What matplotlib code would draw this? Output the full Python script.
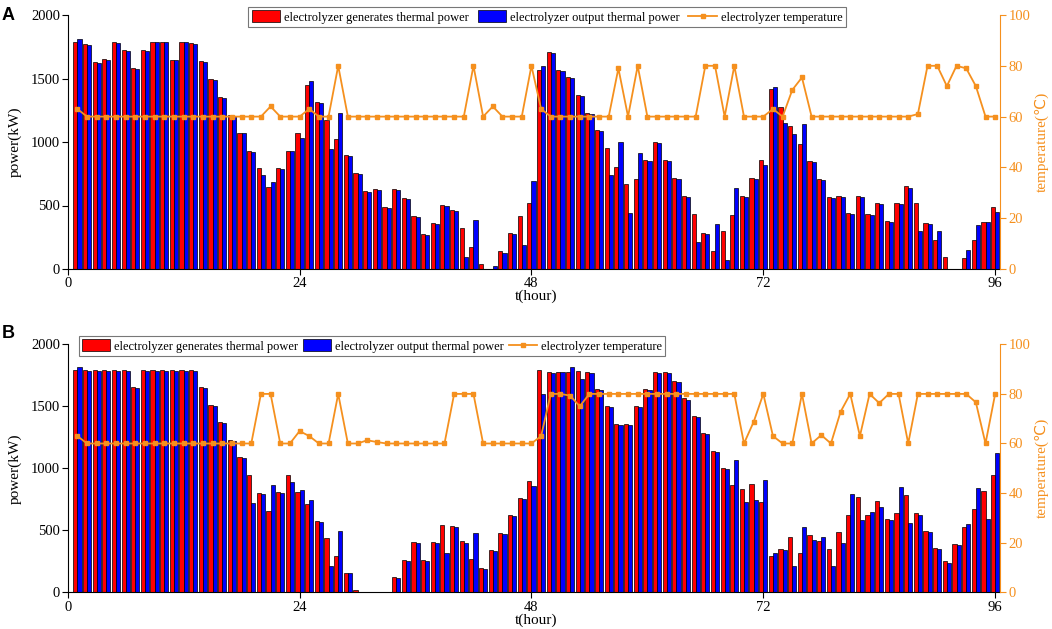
import numpy as np
import matplotlib
matplotlib.use("Agg")
import matplotlib.pyplot as plt
from matplotlib.patches import Patch
from matplotlib.lines import Line2D

hours = list(range(1, 97))

# Panel A
gen_A = [1790, 1770, 1629, 1655, 1790, 1723, 1581, 1723, 1790, 1790, 1649, 1790,
         1777, 1634, 1498, 1357, 1215, 1074, 933, 792, 648, 792, 933, 1074,
         1451, 1312, 1171, 1022, 894, 753, 612, 633, 491, 633, 557, 416,
         277, 363, 502, 465, 324, 173, 39, 0, 139, 280, 418, 518,
         1568, 1712, 1568, 1514, 1372, 1231, 1093, 951, 802, 672, 706, 857,
         998, 857, 716, 575, 437, 285, 144, 298, 429, 575, 719, 857,
         1414, 1273, 1124, 983, 852, 711, 570, 575, 439, 578, 437, 518,
         379, 518, 656, 518, 366, 227, 92, 0, 84, 230, 374, 489]
out_A = [1814, 1762, 1621, 1647, 1783, 1715, 1574, 1715, 1785, 1785, 1644, 1785,
         1772, 1629, 1490, 1349, 1208, 1067, 925, 740, 688, 787, 928, 1035,
         1480, 1304, 946, 1231, 886, 745, 604, 625, 484, 625, 549, 408,
         269, 355, 494, 457, 97, 382, 0, 26, 128, 272, 191, 693,
         1595, 1704, 1561, 1506, 1364, 1223, 1085, 740, 998, 444, 915, 850,
         991, 850, 708, 567, 209, 277, 353, 71, 635, 567, 706, 821,
         1435, 1153, 1061, 1142, 844, 703, 562, 570, 431, 570, 429, 510,
         371, 510, 640, 301, 355, 298, 0, 0, 152, 350, 369, 450]
temp_A = [63, 60, 60, 60, 60, 60, 60, 60, 60, 60, 60, 60,
          60, 60, 60, 60, 60, 60, 60, 60, 64, 60, 60, 60,
          63, 60, 60, 80, 60, 60, 60, 60, 60, 60, 60, 60,
          60, 60, 60, 60, 60, 80, 60, 64, 60, 60, 60, 80,
          63, 60, 60, 60, 60, 60, 60, 60, 79, 60, 80, 60,
          60, 60, 60, 60, 60, 80, 80, 60, 80, 60, 60, 60,
          63, 60, 70.5, 75.4, 60, 60, 60, 60, 60, 60, 60, 60,
          60, 60, 60, 61, 80, 80, 72, 80, 79, 72, 60, 60]

# Panel B
gen_B = [1790, 1790, 1790, 1790, 1790, 1790, 1653, 1790, 1790, 1790, 1790, 1790,
         1790, 1653, 1511, 1371, 1231, 1089, 949, 798, 659, 809, 949, 809,
         715, 578, 438, 293, 159, 19, 0, 0, 0, 121, 261, 403,
         261, 403, 543, 535, 411, 271, 199, 341, 481, 621, 761, 900,
         1790, 1779, 1779, 1779, 1782, 1779, 1640, 1500, 1360, 1360, 1503, 1642,
         1779, 1779, 1704, 1564, 1425, 1285, 1142, 1003, 863, 833, 876, 728,
         296, 352, 444, 315, 465, 414, 352, 489, 626, 771, 626, 734,
         594, 637, 788, 637, 495, 355, 250, 390, 530, 672, 820, 946]
out_B = [1817, 1785, 1785, 1785, 1785, 1785, 1645, 1785, 1785, 1785, 1785, 1785,
         1785, 1645, 1503, 1363, 1223, 1081, 723, 790, 866, 801, 890, 823,
         742, 570, 212, 497, 153, 0, 0, 0, 5, 113, 255, 395,
         255, 395, 314, 527, 400, 478, 191, 333, 473, 613, 753, 860,
         1597, 1771, 1779, 1814, 1720, 1771, 1632, 1492, 1352, 1352, 1492, 1632,
         1771, 1771, 1693, 1554, 1414, 1274, 1134, 995, 1070, 728, 742, 906,
         320, 344, 215, 524, 422, 444, 210, 401, 796, 581, 650, 685,
         583, 847, 562, 626, 487, 347, 239, 379, 554, 844, 591, 1124]
temp_B = [63, 60, 60, 60, 60, 60, 60, 60, 60, 60, 60, 60,
          60, 60, 60, 60, 60, 60, 60, 80, 80, 60, 60, 65,
          63, 60, 60, 80, 60, 60, 61.3, 60.6, 60, 60, 60, 60,
          60, 60, 60, 80, 80, 80, 60, 60, 60, 60, 60, 60,
          63, 80, 80, 79.3, 75, 80, 80, 80, 80, 80, 80, 80,
          80, 80, 80, 80, 80, 80, 80, 80, 80, 60, 68.7, 80,
          63, 60, 60, 80, 60, 63.4, 60, 72.8, 80, 63, 80, 76.3,
          80, 80, 60, 80, 80, 80, 80, 80, 80, 76.6, 60, 80]

xticks = [0, 24, 48, 72, 96]
yticks_power = [0, 500, 1000, 1500, 2000]
yticks_temp = [0, 20, 40, 60, 80, 100]
labels = ["electrolyzer generates thermal power", "electrolyzer output thermal power",
          "electrolyzer temperature"]

ORANGE = "#F5901E"
SERIF = ["Liberation Serif", "DejaVu Serif"]
plt.rcParams["font.family"] = SERIF

W, H = 1052, 629
fig = plt.figure(figsize=(W / 100, H / 100), dpi=100)

def px2fig(x0, y_top, x1, y_bot):
    return [x0 / W, 1 - y_bot / H, (x1 - x0) / W, (y_bot - y_top) / H]

def panel(rect, gen, out, temp, letter, letter_y, xlabel_y, legend_center, leg_fs, colsp):
    ax = fig.add_axes(rect)
    x = np.array(hours, dtype=float)
    bw = 0.43
    ax.bar(x - bw / 2, gen, width=bw, color="#FF0000", edgecolor="black", linewidth=0.5, zorder=2)
    ax.bar(x + bw / 2, out, width=bw, color="#0000FF", edgecolor="black", linewidth=0.5, zorder=2)
    ax.set_xlim(0, 96.5)
    ax.set_ylim(0, 2000)
    ax.set_xticks(xticks)
    ax.set_yticks(yticks_power)
    ax.spines["top"].set_visible(False)
    ax.spines["right"].set_visible(False)
    ax.tick_params(axis="both", direction="out", length=4, width=0.8, labelsize=10.5, pad=1.5)
    ax.tick_params(axis="x", pad=2)
    ax2 = ax.twinx()
    ax2.plot(x, temp, color=ORANGE, lw=1.3, marker="s", markersize=3.3, zorder=3)
    ax2.set_ylim(0, 100)
    ax2.set_yticks(yticks_temp)
    ax2.spines["top"].set_visible(False)
    ax2.spines["left"].set_visible(False)
    ax2.spines["bottom"].set_visible(False)
    ax2.spines["right"].set_color(ORANGE)
    ax2.tick_params(axis="y", direction="out", length=4, width=0.8, colors=ORANGE,
                    labelsize=10.5, pad=2)
    ax.set_xlim(0, 96.5)

    fig.text(8 / W, 1 - letter_y / H, letter, fontsize=13, fontweight="bold",
             family=["Liberation Sans", "DejaVu Sans"], ha="center", va="center")
    yc = (rect[1] + rect[3] / 2)
    fig.text(15 / W, yc, "power(kW)", rotation=90, ha="center", va="center", fontsize=11)
    fig.text(1042 / W, yc, "temperature(\u2103)", rotation=90, ha="center", va="center",
             fontsize=11, color=ORANGE, family=["Liberation Serif", "DejaVu Sans"])
    fig.text(536 / W, 1 - xlabel_y / H, "t(hour)", ha="center", va="center", fontsize=11)

    handles = [Patch(facecolor="#FF0000", edgecolor="black", linewidth=0.5),
               Patch(facecolor="#0000FF", edgecolor="black", linewidth=0.5),
               Line2D([], [], color=ORANGE, lw=1.3, marker="s", markersize=3.3)]
    leg = fig.legend(handles, labels, loc="center", ncol=3,
                     bbox_to_anchor=(legend_center[0] / W, 1 - legend_center[1] / H),
                     bbox_transform=fig.transFigure, fontsize=leg_fs, frameon=True,
                     fancybox=False, edgecolor="#555555", borderpad=0.25,
                     handlelength=2.3, handleheight=1.1, handletextpad=0.3,
                     columnspacing=colsp, borderaxespad=0)
    leg.get_frame().set_linewidth(0.8)
    return ax, ax2

panel(px2fig(67.7, 15, 1000, 269), gen_A, out_A, temp_A, "A", 16, 296.7, (547, 17), 9.0, 0.7)
panel(px2fig(67.7, 344.3, 1000, 592.3), gen_B, out_B, temp_B, "B", 333, 620, (372, 346), 8.9, 0.4)

fig.savefig("out.png", dpi=100)
